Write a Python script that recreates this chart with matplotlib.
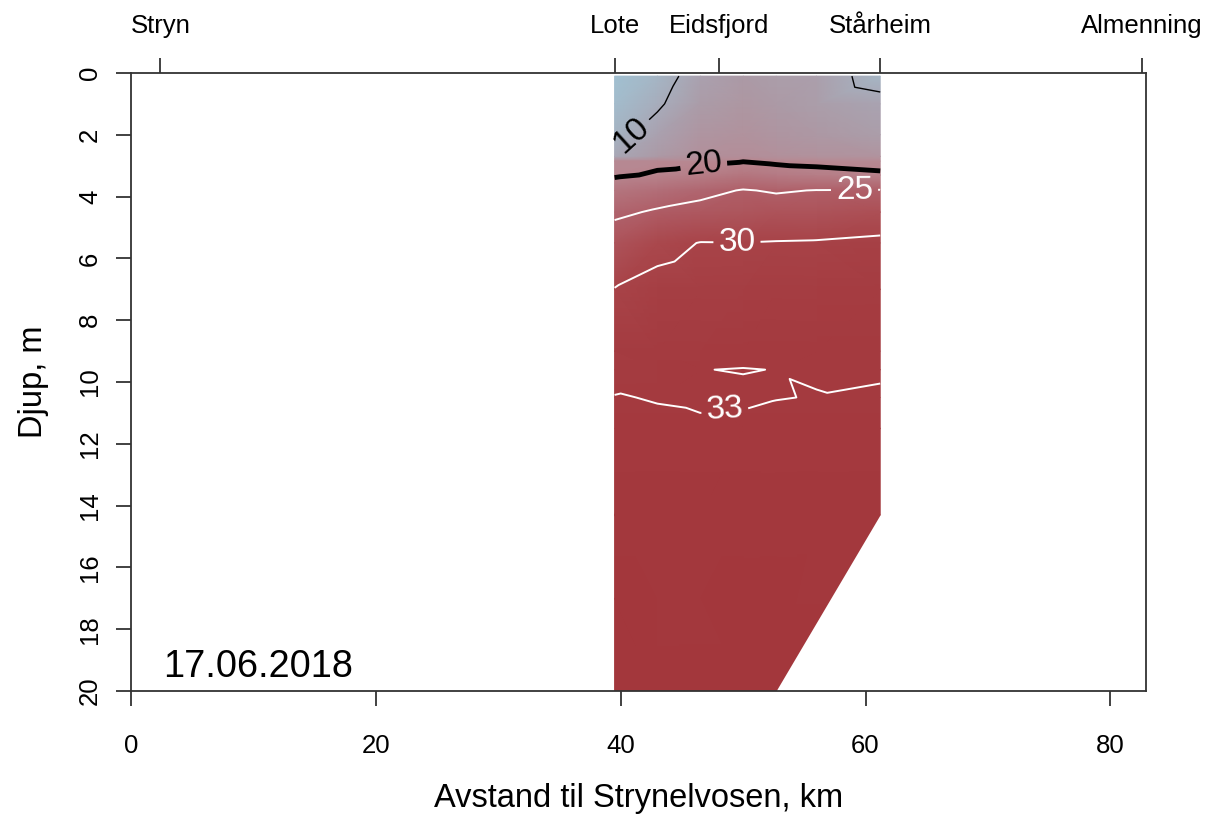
import matplotlib
matplotlib.use("Agg")
import matplotlib.pyplot as plt
import matplotlib.tri as mtri
from matplotlib.colors import LinearSegmentedColormap, Normalize
import numpy as np

plt.rcParams['font.family'] = ['Liberation Sans', 'DejaVu Sans']

# station positions (km from Strynelvosen) and sample depths (m)
station_km = [39.5, 43.0, 46.5, 50.0, 52.7, 56.0, 61.2]
depths = [0.1, 1.0, 2.0, 2.7, 2.85, 3.3, 3.8, 4.5, 5.5, 7.0, 9.0, 9.6, 10.5, 11.5, 14.3, 17.0, 20.0]

# salinity profiles per station (None = below bottom)
salinity = [
    [6.0, 7.0, 8.5, 10.5, 19.0, 19.6, 22.0, 24.3, 27.0, 30.1, 32.0, 32.5, 33.05, 33.4, 33.8, 34.0, 34.2],
    [8.0, 9.3, 12.0, 14.0, 19.4, 20.3, 23.0, 25.4, 29.0, 31.0, 32.5, 32.7, 32.95, 33.2, 33.6, 33.9, 34.1],
    [12.0, 13.5, 15.5, 17.0, 19.6, 21.0, 24.0, 26.2, 30.1, 31.5, 32.6, 32.99, 32.9, 33.1, 33.6, 33.9, 34.1],
    [14.0, 15.0, 16.5, 17.5, 19.9, 22.0, 25.2, 26.5, 30.05, 31.6, 32.8, 33.02, 32.9, 33.15, 33.7, 34.0, 34.2],
    [13.0, 14.0, 15.5, 17.0, 19.5, 21.5, 24.7, 26.8, 30.2, 31.7, 32.7, 32.99, 32.98, 33.2, 33.7, 34.0, 34.2],
    [12.5, 13.0, 14.5, 16.5, 19.3, 21.0, 25.1, 27.0, 30.3, 31.8, 32.8, 32.95, 33.02, 33.3, 33.7, None, None],
    [8.0, 11.5, 13.0, 16.0, 18.8, 20.5, 25.2, 27.5, 30.8, 32.0, 32.8, 32.9, 33.1, 33.4, 33.7, None, None],
]

place_km = [2.4, 39.5, 48.0, 61.2, 82.6]
place_names = ['Stryn', 'Lote', 'Eidsfjord', 'Stårheim', 'Almenning']

levels_white = [25, 30, 33]

# point cloud from the station profiles
xs, ys, zs = [], [], []
for km, prof in zip(station_km, salinity):
    for d, s in zip(depths, prof):
        if s is None:
            continue
        xs.append(km)
        ys.append(d)
        zs.append(s)
xs, ys, zs = np.array(xs), np.array(ys), np.array(zs)
tri = mtri.Triangulation(xs, ys)

smin, smax = 5, 35
cmap = LinearSegmentedColormap.from_list('sal', [
    (0.0, '#a0c4d6'),
    ((7 - smin) / 30, '#a3bccc'),
    ((10 - smin) / 30, '#a8a8b7'),
    ((14 - smin) / 30, '#ac9aa6'),
    ((17 - smin) / 30, '#b2909b'),
    ((20 - smin) / 30, '#b8868f'),
    ((24 - smin) / 30, '#b06670'),
    ((28 - smin) / 30, '#ac4c52'),
    ((31 - smin) / 30, '#a63f44'),
    (1.0, '#a2353a'),
])
norm = Normalize(vmin=smin, vmax=smax)

fig = plt.figure(figsize=(12.1, 8.14), dpi=100)
ax = fig.add_axes([0.1083, 0.1511, 0.8387, 0.7592])

ax.tripcolor(tri, zs, shading='gouraud', cmap=cmap, norm=norm)

cs10 = ax.tricontour(tri, zs, levels=[10], colors='black', linewidths=1.0)
cs20 = ax.tricontour(tri, zs, levels=[20], colors='black', linewidths=3.5)
csw = ax.tricontour(tri, zs, levels=levels_white, colors='white', linewidths=1.4)

ax.set_xlim(0, 82.9)
ax.set_ylim(20, 0)

ax.clabel(cs10, fmt='%d', fontsize=24, manual=[(41.3, 2.2)], inline=True)
ax.clabel(cs20, fmt='%d', fontsize=24, manual=[(46.8, 3.1)], inline=True)
ax.clabel(csw, fmt='%d', fontsize=24, colors='white',
          manual=[(59.1, 3.8), (49.5, 5.4), (48.5, 11.2)], inline=True)

ax.text(2.6, 19.55, '17.06.2018', fontsize=27.3, va='baseline', ha='left')

ax.set_xticks([0, 20, 40, 60, 80])
ax.set_yticks(range(0, 21, 2))
ax.tick_params(axis='x', labelsize=18.5, length=11, width=1.3, color='#333333', pad=20)
ax.tick_params(axis='y', labelsize=18.5, length=11, width=1.3, color='#333333', pad=10)
for lab in ax.get_yticklabels():
    lab.set_rotation(90)
    lab.set_va('center')
ax.set_xlabel('Avstand til Strynelvosen, km', fontsize=23.5, labelpad=18)
ax.set_ylabel('Djup, m', fontsize=23.5, labelpad=21)
for sp in ax.spines.values():
    sp.set_linewidth(1.3)
    sp.set_color('#333333')

top = ax.twiny()
top.set_xlim(ax.get_xlim())
top.set_xticks(place_km)
top.set_xticklabels(place_names)
top.tick_params(axis='x', labelsize=18.5, length=11, width=1.3, color='#333333', pad=14)
for sp in top.spines.values():
    sp.set_visible(False)

fig.savefig('out.png', dpi=100)
